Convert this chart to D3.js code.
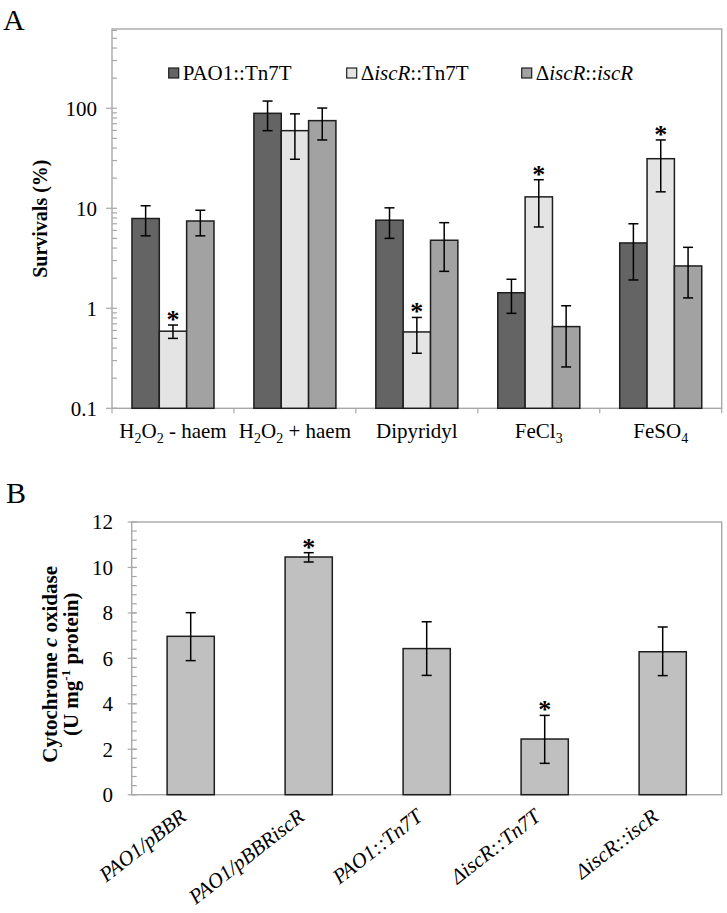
<!DOCTYPE html>
<html>
<head>
<meta charset="utf-8">
<script src="https://cdn.jsdelivr.net/npm/d3@7"></script>
<style>
  html, body { margin: 0; padding: 0; background: #fff; }
  svg text { font-family: "Liberation Serif", "Times New Roman", serif; fill: #000; }
</style>
</head>
<body>
<svg id="chart" width="727" height="913"></svg>
<script>
// ---------------- DATA ----------------
// Panel A: survival (%), log scale
const categoriesA = ["H_2O_2 - haem", "H_2O_2 + haem", "Dipyridyl", "FeCl_3", "FeSO_4"];
const seriesA = ["PAO1::Tn7T", "ΔiscR::Tn7T", "ΔiscR::iscR"];
const pao1Tn7T      = [7.9, 89, 7.6, 1.43, 4.5];
const pao1Tn7TLow   = [5.3, 59.7, 5.0, 0.89, 1.92];
const pao1Tn7THigh  = [10.6, 118, 10.1, 1.95, 7.0];
const iscRTn7T      = [0.59, 59.7, 0.58, 13.0, 31.3];
const iscRTn7TLow   = [0.50, 30.9, 0.355, 6.5, 14.6];
const iscRTn7THigh  = [0.68, 87.9, 0.81, 19.3, 48.2];
const iscRiscR      = [7.46, 75.2, 4.79, 0.656, 2.65];
const iscRiscRLow   = [5.3, 48.2, 2.34, 0.259, 1.27];
const iscRiscRHigh  = [9.55, 100.5, 7.18, 1.06, 4.07];
const iscRTn7TSig   = [true, false, true, true, true];
const yTickLabelsA  = ["0.1", "1", "10", "100"];

// Panel B: cytochrome c oxidase activity
const categoriesB = ["PAO1/pBBR", "PAO1/pBBRiscR", "PAO1::Tn7T", "ΔiscR::Tn7T", "ΔiscR::iscR"];
const oxidase     = [6.97, 10.46, 6.43, 2.45, 6.29];
const oxidaseLow  = [5.90, 10.24, 5.25, 1.38, 5.24];
const oxidaseHigh = [8.01, 10.65, 7.61, 3.49, 7.38];
const oxidaseSig  = [false, true, false, true, false];
const yTickLabelsB = ["0", "2", "4", "6", "8", "10", "12"];

// ---------------- STYLE ----------------
const seriesColors = ["#646464", "#e4e4e4", "#a2a2a2"];
const barStroke = "#1e1e1e";
const frameColor = "#a8a8a8";
const FS = 21;

const svg = d3.select("#chart");

// helpers
function addSubText(sel, label) {
  // "_d" -> subscript digit
  const parts = label.split(/(_\d)/).filter(p => p);
  let shifted = false;
  parts.forEach(p => {
    if (p[0] === "_") {
      sel.append("tspan").attr("font-size", 14).attr("dy", 5).text(p.slice(1));
      shifted = true;
    } else {
      const t = sel.append("tspan").text(p);
      if (shifted) { t.attr("dy", -5); shifted = false; }
    }
  });
}
function addItalicIscR(sel, label) {
  label.split(/(iscR)/).forEach(p => {
    if (!p) return;
    const t = sel.append("tspan").text(p);
    if (p === "iscR") t.attr("font-style", "italic");
  });
}

// ---------------- PANEL A ----------------
const A = { l: 112, r: 721.7, t: 29, b: 408.3 };
const yA = d3.scaleLog().domain([0.1, 620]).range([A.b, A.t]);
const x0 = d3.scaleBand().domain(categoriesA).range([A.l, A.r]).padding(0);
const x1 = d3.scaleBand().domain(seriesA).range([0, x0.bandwidth()])
  .paddingInner(0).paddingOuter(0.73);

svg.append("text").attr("x", 3).attr("y", 30).attr("font-size", 30).text("A");

svg.append("rect").attr("x", A.l).attr("y", A.t)
  .attr("width", A.r - A.l).attr("height", A.b - A.t)
  .attr("fill", "none").attr("stroke", frameColor).attr("stroke-width", 1.4);

// y ticks
const gA = svg.append("g");
const allTicksA = yA.ticks();
const majorsA = [0.1, 1, 10, 100];
allTicksA.forEach(v => {
  const isMajor = majorsA.some(m => Math.abs(m - v) < 1e-9);
  gA.append("line")
    .attr("x1", isMajor ? A.l - 6 : A.l).attr("x2", A.l + 5)
    .attr("y1", yA(v)).attr("y2", yA(v))
    .attr("stroke", frameColor).attr("stroke-width", 1.2);
});
yTickLabelsA.forEach(lbl => {
  gA.append("text").attr("x", 97).attr("y", yA(+lbl)).attr("dy", "0.35em")
    .attr("text-anchor", "end").attr("font-size", FS).text(lbl);
});
// x category ticks
categoriesA.concat([null]).forEach(c => {
  const x = c === null ? A.r : x0(c);
  gA.append("line").attr("x1", x).attr("x2", x)
    .attr("y1", A.b).attr("y2", A.b + 5)
    .attr("stroke", frameColor).attr("stroke-width", 1.2);
});
// x labels
categoriesA.forEach(c => {
  const t = gA.append("text").attr("x", x0(c) + x0.bandwidth() / 2).attr("y", 438)
    .attr("text-anchor", "middle").attr("font-size", FS);
  addSubText(t, c);
});
// y title
svg.append("text").attr("transform", `translate(47,${(A.t + A.b) / 2}) rotate(-90)`)
  .attr("text-anchor", "middle").attr("font-size", 20).attr("font-weight", "bold")
  .text("Survivals (%)");

// bars
const valsA = [pao1Tn7T, iscRTn7T, iscRiscR];
const lowsA = [pao1Tn7TLow, iscRTn7TLow, iscRiscRLow];
const highsA = [pao1Tn7THigh, iscRTn7THigh, iscRiscRHigh];
const barsA = svg.append("g");
seriesA.forEach((s, si) => {
  categoriesA.forEach((c, ci) => {
    const v = valsA[si][ci];
    barsA.append("rect")
      .attr("x", x0(c) + x1(s)).attr("y", yA(v))
      .attr("width", x1.bandwidth()).attr("height", yA(0.1) - yA(v))
      .attr("fill", seriesColors[si]).attr("stroke", barStroke).attr("stroke-width", 1.5);
  });
});
const errA = svg.append("g").attr("stroke", "#000").attr("stroke-width", 1.5);
seriesA.forEach((s, si) => {
  categoriesA.forEach((c, ci) => {
    const cx = x0(c) + x1(s) + x1.bandwidth() / 2;
    const lo = yA(lowsA[si][ci]), hi = yA(highsA[si][ci]);
    errA.append("line").attr("x1", cx).attr("x2", cx).attr("y1", lo).attr("y2", hi);
    errA.append("line").attr("x1", cx - 5).attr("x2", cx + 5).attr("y1", lo).attr("y2", lo);
    errA.append("line").attr("x1", cx - 5).attr("x2", cx + 5).attr("y1", hi).attr("y2", hi);
  });
});
// significance
categoriesA.forEach((c, ci) => {
  if (!iscRTn7TSig[ci]) return;
  const cx = x0(c) + x1(seriesA[1]) + x1.bandwidth() / 2;
  svg.append("text").attr("x", cx).attr("y", yA(iscRTn7THigh[ci]) + 3)
    .attr("text-anchor", "middle").attr("font-size", 26).attr("font-weight", "bold").text("*");
});
// legend
const legendX = [168.7, 346.7, 521.7];
seriesA.forEach((s, si) => {
  svg.append("rect").attr("x", legendX[si]).attr("y", 68).attr("width", 10).attr("height", 10)
    .attr("fill", seriesColors[si]).attr("stroke", barStroke).attr("stroke-width", 1.2);
  const t = svg.append("text").attr("x", legendX[si] + 14).attr("y", 80).attr("font-size", FS);
  addItalicIscR(t, s);
});

// ---------------- PANEL B ----------------
const B = { l: 131.7, r: 721.7, t: 522, b: 794.7 };
const yB = d3.scaleLinear().domain([0, 12]).range([B.b, B.t]);
const xB = d3.scaleBand().domain(categoriesB).range([B.l, B.r]).paddingInner(0.6).paddingOuter(0.3);

svg.append("text").attr("x", 6).attr("y", 503).attr("font-size", 30).text("B");

svg.append("rect").attr("x", B.l).attr("y", B.t)
  .attr("width", B.r - B.l).attr("height", B.b - B.t)
  .attr("fill", "none").attr("stroke", frameColor).attr("stroke-width", 1.4);

const gB = svg.append("g");
const minorB = d3.range(0, 30).map(i => i * 0.4).filter(v => v <= 12.0001);
minorB.forEach(v => {
  gB.append("line").attr("x1", B.l).attr("x2", B.l + 5)
    .attr("y1", yB(v)).attr("y2", yB(v)).attr("stroke", frameColor).attr("stroke-width", 1.2);
});
yTickLabelsB.forEach(lbl => {
  const v = +lbl;
  gB.append("line").attr("x1", B.l - 4).attr("x2", B.l + 5)
    .attr("y1", yB(v)).attr("y2", yB(v)).attr("stroke", frameColor).attr("stroke-width", 1.2);
  gB.append("text").attr("x", 113).attr("y", yB(v)).attr("dy", "0.35em")
    .attr("text-anchor", "end").attr("font-size", FS).text(lbl);
});
// y title (two lines)
const tB1 = svg.append("text").attr("transform", `translate(57,${(B.t + B.b) / 2 + 6}) rotate(-90)`)
  .attr("text-anchor", "middle").attr("font-size", 21).attr("font-weight", "bold");
tB1.append("tspan").text("Cytochrome ");
tB1.append("tspan").attr("font-style", "italic").text("c");
tB1.append("tspan").text(" oxidase");
const tB2 = svg.append("text").attr("transform", `translate(78,${(B.t + B.b) / 2 + 6}) rotate(-90)`)
  .attr("text-anchor", "middle").attr("font-size", 21).attr("font-weight", "bold");
tB2.append("tspan").text("(U mg");
tB2.append("tspan").attr("font-size", 13).attr("dy", -8).text("-1");
tB2.append("tspan").attr("dy", 8).text(" protein)");

// bars
categoriesB.forEach((c, i) => {
  svg.append("rect").attr("x", xB(c)).attr("y", yB(oxidase[i]))
    .attr("width", xB.bandwidth()).attr("height", yB(0) - yB(oxidase[i]))
    .attr("fill", "#c0c0c0").attr("stroke", barStroke).attr("stroke-width", 1.5);
});
const errB = svg.append("g").attr("stroke", "#000").attr("stroke-width", 1.5);
categoriesB.forEach((c, i) => {
  const cx = xB(c) + xB.bandwidth() / 2;
  const lo = yB(oxidaseLow[i]), hi = yB(oxidaseHigh[i]);
  errB.append("line").attr("x1", cx).attr("x2", cx).attr("y1", lo).attr("y2", hi);
  errB.append("line").attr("x1", cx - 5).attr("x2", cx + 5).attr("y1", lo).attr("y2", lo);
  errB.append("line").attr("x1", cx - 5).attr("x2", cx + 5).attr("y1", hi).attr("y2", hi);
  if (oxidaseSig[i]) {
    svg.append("text").attr("x", cx).attr("y", hi + 3)
      .attr("text-anchor", "middle").attr("font-size", 26).attr("font-weight", "bold").text("*");
  }
});
// x labels rotated
categoriesB.forEach(c => {
  const cx = xB(c) + xB.bandwidth() / 2;
  svg.append("text").attr("transform", `translate(${cx - 3},819) rotate(-38)`)
    .attr("text-anchor", "end").attr("font-size", 21).attr("font-style", "italic").text(c);
});
</script>
</body>
</html>
